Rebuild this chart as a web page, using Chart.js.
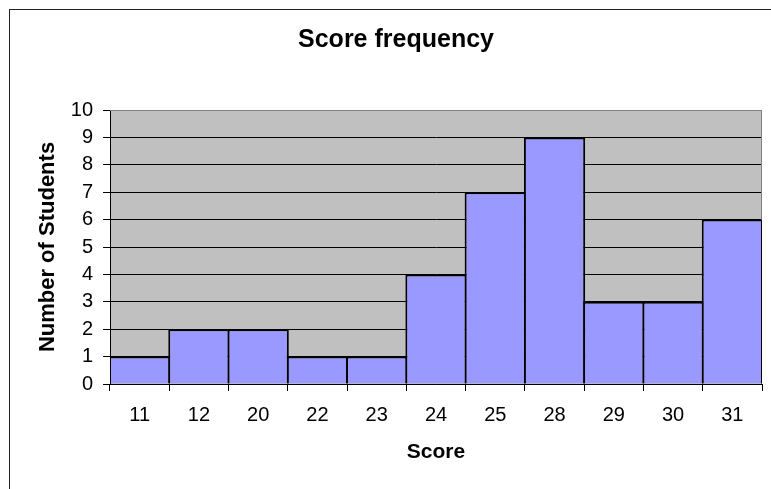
<!DOCTYPE html>
<html>
<head>
<meta charset="utf-8">
<script src="https://cdn.jsdelivr.net/npm/chart.js@4"></script>
<style>
  html, body { margin: 0; padding: 0; background: #fff; }
  #wrap { width: 771px; height: 489px; position: relative; }
</style>
</head>
<body>
<div id="wrap"><canvas id="chart"></canvas></div>
<script>
// Score histogram, Excel-style look
const scores = ["11", "12", "20", "22", "23", "24", "25", "28", "29", "30", "31"]
const students = [1, 2, 2, 1, 1, 4, 7, 9, 3, 3, 6]
const yTicks = [0, 1, 2, 3, 4, 5, 6, 7, 8, 9, 10]

const FONT = "'Liberation Sans', Arial, sans-serif"

// outer chart box + grey plot area
const frame = {
  id: "frame",
  beforeDraw(chart) {
    const { ctx, chartArea: a } = chart
    ctx.save()
    ctx.strokeStyle = "#222"
    ctx.lineWidth = 1
    ctx.strokeRect(9.5, 9.5, 900, 700)
    ctx.fillStyle = "#c0c0c0"
    ctx.fillRect(a.left, a.top, a.right - a.left, a.bottom - a.top)
    ctx.restore()
  },
  beforeDatasetsDraw(chart) {
    const { ctx, chartArea: a } = chart
    ctx.save()
    ctx.strokeStyle = "#808080"
    ctx.lineWidth = 1
    ctx.beginPath()
    ctx.moveTo(a.left, a.top + 0.5)
    ctx.lineTo(a.right - 0.5, a.top + 0.5)
    ctx.lineTo(a.right - 0.5, a.bottom)
    ctx.stroke()
    ctx.restore()
  },
}

new Chart(document.getElementById("chart"), {
  type: "bar",
  data: {
    labels: scores,
    datasets: [{
      label: "Number of Students",
      data: students,
      backgroundColor: "#9999ff",
      borderColor: "#000",
      borderWidth: 2,
      borderSkipped: "start",
      // bars overlap by their 2px border so neighbours share one outline
      barPercentage: 1.034,
      categoryPercentage: 1,
    }],
  },
  options: {
    responsive: true,
    maintainAspectRatio: false,
    animation: false,
    layout: { padding: { left: 30, right: 9, top: 0, bottom: 0 } },
    plugins: {
      legend: { display: false },
      tooltip: { enabled: false },
      title: {
        display: true,
        text: "Score frequency",
        color: "#000",
        font: { family: FONT, size: 25, weight: "bold" },
        padding: { top: 25, bottom: 55 },
      },
    },
    scales: {
      x: {
        afterFit: (s) => { s.height = 105 },
        grid: {
          offset: true,
          drawOnChartArea: false,
          drawTicks: true,
          tickLength: 7,
          color: "#000",
        },
        border: { color: "#000", width: 1 },
        ticks: {
          color: "#000",
          font: { family: FONT, size: 20 },
          padding: 12,
          maxRotation: 0,
        },
        title: {
          display: true,
          text: "Score",
          color: "#000",
          font: { family: FONT, size: 21, weight: "bold" },
          padding: { top: 0, bottom: 24 },
        },
      },
      y: {
        min: yTicks[0],
        max: yTicks[yTicks.length - 1],
        afterFit: (s) => { s.width = 80 },
        afterBuildTicks: (s) => { s.ticks = yTicks.map(v => ({ value: v })) },
        grid: {
          color: (c) => c.tick && c.tick.value === 10 ? "#808080" : "#000",
          tickColor: "#000",
          tickLength: 7,
        },
        border: { color: "#000", width: 1 },
        ticks: {
          color: "#000",
          font: { family: FONT, size: 20 },
          padding: 10,
        },
        title: {
          display: true,
          text: "Number of Students",
          color: "#000",
          font: { family: FONT, size: 22, weight: "bold" },
          padding: { top: 5, bottom: 0 },
        },
      },
    },
  },
  plugins: [frame],
})
</script>
</body>
</html>
